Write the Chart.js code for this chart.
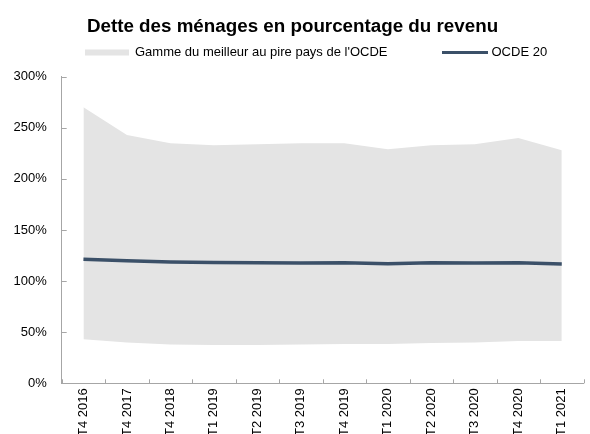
<!DOCTYPE html>
<html><head><meta charset="utf-8">
<script src="https://cdn.jsdelivr.net/npm/chart.js@4"></script>
<style>html,body{margin:0;padding:0;background:#fff;overflow:hidden}#wrap{position:relative;width:590px;height:434px}</style>
</head><body><div id="wrap"><canvas id="c"></canvas></div>
<script>
const categories = ['T4 2016','T4 2017','T4 2018','T1 2019','T2 2019','T3 2019','T4 2019','T1 2020','T2 2020','T3 2020','T4 2020','T1 2021'];
const rangeHigh = [270,243,235,233,234,235,235,229,233,234,240,228];
const rangeLow = [43,40,38,37.5,37.5,38,38.5,38.5,39.5,40,41.5,41.5];
const oecd20 = [121.5,119.8,118.7,118.1,118,117.7,118,117,118,117.7,118,116.7];
const yMin = 0, yMax = 300, yStep = 50;
const titleText = 'Dette des ménages en pourcentage du revenu';
const legendRange = "Gamme du meilleur au pire pays de l'OCDE";
const legendLine = 'OCDE 20';

const FONT = '"Liberation Sans", Arial, sans-serif';
const AREA = '#e4e4e4';
const LINE = '#3b5068';
const AXIS = '#a6a6a6';

const decor = {
  id: 'decor',
  afterDraw(chart) {
    const ctx = chart.ctx, a = chart.chartArea;
    const ys = chart.scales.y;
    ctx.save();
    // inward ticks
    ctx.strokeStyle = AXIS; ctx.lineWidth = 1;
    ys.ticks.forEach((t, i) => {
      const y = Math.round(ys.getPixelForTick(i)) + 0.5;
      ctx.beginPath(); ctx.moveTo(a.left, y); ctx.lineTo(a.left + 5, y); ctx.stroke();
    });
    const n = categories.length, w = (a.right - a.left) / n;
    for (let i = 0; i <= n; i++) {
      const x = Math.round(a.left + i * w) + 0.5;
      ctx.beginPath(); ctx.moveTo(x, a.bottom - 4); ctx.lineTo(x, a.bottom); ctx.stroke();
    }
    // title
    ctx.fillStyle = '#000';
    ctx.font = 'bold 18.8px ' + FONT;
    ctx.textAlign = 'center'; ctx.textBaseline = 'alphabetic';
    ctx.fillText(titleText, 292.5, 31.5);
    // legend
    ctx.font = '13px ' + FONT;
    ctx.textAlign = 'left'; ctx.textBaseline = 'middle';
    ctx.fillStyle = AREA;
    ctx.fillRect(85, 49.5, 44, 6);
    ctx.fillStyle = '#000';
    ctx.fillText(legendRange, 135, 52.5);
    ctx.strokeStyle = LINE; ctx.lineWidth = 3;
    ctx.beginPath(); ctx.moveTo(442, 52.5); ctx.lineTo(488, 52.5); ctx.stroke();
    ctx.fillText(legendLine, 491.5, 52.5);
    ctx.restore();
  }
};

new Chart(document.getElementById('c'), {
  data: {
    labels: categories,
    datasets: [
      { type: 'line', label: legendLine, data: oecd20, borderColor: LINE, borderWidth: 3.5, pointRadius: 0, fill: false, order: 0, tension: 0 },
      { type: 'line', label: legendRange, data: rangeHigh, borderWidth: 0, borderColor: 'rgba(0,0,0,0)', backgroundColor: AREA, pointRadius: 0, fill: '+1', order: 1, tension: 0 },
      { type: 'line', label: 'low', data: rangeLow, borderWidth: 0, borderColor: 'rgba(0,0,0,0)', backgroundColor: 'rgba(0,0,0,0)', pointRadius: 0, fill: false, order: 2, tension: 0 }
    ]
  },
  options: {
    responsive: true, maintainAspectRatio: false, animation: false,
    layout: { padding: { top: 76.7, right: 6.5, left: 0, bottom: 0 } },
    plugins: { legend: { display: false }, title: { display: false }, tooltip: { enabled: false } },
    scales: {
      x: {
        offset: true,
        grid: { display: false, drawTicks: false },
        border: { display: true, color: AXIS, width: 1 },
        ticks: { autoSkip: false, minRotation: 90, maxRotation: 90, padding: 5, color: '#000', font: { family: FONT, size: 13 } },
        afterFit(s) { s.height = 434 - 383.3; }
      },
      y: {
        min: yMin, max: yMax,
        grid: { display: false, drawTicks: false },
        border: { display: true, color: AXIS, width: 1 },
        ticks: { stepSize: yStep, padding: 15, color: '#000', font: { family: FONT, size: 13 }, callback: v => v + '%' },
        afterFit(s) { s.width = 61.7; }
      }
    }
  },
  plugins: [decor]
});
</script></body></html>
